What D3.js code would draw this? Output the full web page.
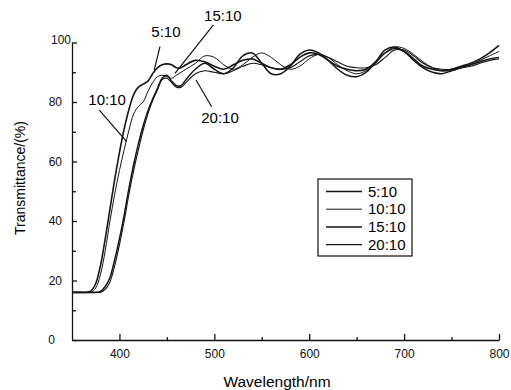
<!DOCTYPE html>
<html>
<head>
<meta charset="utf-8">
<script src="https://cdn.jsdelivr.net/npm/d3@7"></script>
<style>
  body { margin: 0; background: #fff; }
  svg { display: block; font-family: "Liberation Sans", Arial, sans-serif; }
  .axis path, .axis line { stroke: #111; stroke-width: 1.3; }
  .axis text { font-size: 12px; fill: #111; }
  .curve { fill: none; stroke: #151515; }
</style>
</head>
<body>
<script>
// transmittance spectra for four ratios

var wavelength = [350, 360, 365, 370, 375, 380, 385, 390, 395, 400, 405, 410, 415, 420, 425, 430,
                  435, 440, 445, 450, 455, 460, 465, 470, 480, 490, 500, 510, 520, 530, 540, 550,
                  560, 570, 580, 590, 600, 610, 620, 630, 640, 650, 660, 670, 680, 690, 700, 710,
                  720, 730, 740, 750, 760, 770, 780, 790, 800];

var t_5_10  = [16, 16, 16, 16.5, 19, 25, 34, 44, 54, 63, 71, 77.5, 82.5, 85, 86, 87,
               89.5, 91.5, 92.5, 92.8, 92.5, 91.5, 91.5, 92.5, 94, 93.5, 92, 91, 92.5, 94, 94.5, 93,
               91.5, 91, 92.5, 95, 96.5, 96, 94, 92, 91, 90.5, 91, 93.5, 96.5, 98, 97, 94.5,
               92, 91, 90.5, 91, 92, 93, 94.5, 96.5, 99];

var t_10_10 = [16, 16, 16, 16, 17.5, 22, 30, 40, 49, 57, 64, 70.5, 76, 78.5, 80, 83.5,
               86.5, 88.5, 89, 88.5, 88, 89, 90, 91, 93, 95.5, 95, 92.5, 91, 92.5, 95, 96.5,
               95, 92.5, 91, 92, 94.5, 96, 95, 92.5, 90.5, 89.5, 90.5, 93, 96.5, 98.5, 98, 96,
               93.5, 91.5, 90.5, 90.5, 91.5, 92.5, 94, 95.5, 97];

var t_15_10 = [16, 16, 16, 16, 16, 16.3, 18, 21, 27, 34, 42, 51, 59, 66, 72, 77,
               81, 84.5, 88, 89, 87, 85.5, 85.5, 87.5, 91, 93, 91, 89.5, 91.5, 95.5, 96.5, 93,
               89.5, 89.5, 92, 96, 97.5, 96.5, 94, 91, 89, 88.5, 90, 93.5, 97.5, 98.5, 97, 94,
               91.5, 90, 89.5, 90.5, 91.5, 92.5, 93.5, 94.5, 95];

var t_20_10 = [16, 16, 16, 16, 16, 16, 17, 19.5, 25, 32, 40, 49, 57, 64, 70.5, 76,
               80.5, 84, 87.5, 88, 86.5, 85, 85, 86.5, 89.5, 90.5, 90, 89.5, 90.5, 92, 93, 92.5,
               91.5, 91, 91.5, 93.5, 95.5, 96, 95, 93.5, 92, 91.5, 91.5, 92.5, 95, 97.5, 97.5, 95.5,
               93, 91.5, 91, 91, 91.5, 92, 93, 94, 94.5];

var series_names = ["5:10", "10:10", "15:10", "20:10"];
var series_values = [t_5_10, t_10_10, t_15_10, t_20_10];
var series_widths = [1.6, 1.0, 1.5, 1.1];

var x_ticks = [400, 500, 600, 700, 800];
var x_minor = [450, 550, 650, 750];
var y_ticks = [0, 20, 40, 60, 80, 100];
var y_minor = [10, 30, 50, 70, 90];

// label text, its anchor point and where the leader line meets the curve (data units)
var callouts = [
  {name: "5:10",  tx: 449, ty: 103.6, lx1: 442.7, ly1: 98.6, lx2: 436.7, ly2: 90.8},
  {name: "15:10", tx: 509, ty: 108.9, lx1: 499,   ly1: 105.9, lx2: 458.5, ly2: 89.6},
  {name: "10:10", tx: 387, ty: 80.7,  lx1: 378.8, ly1: 77.3, lx2: 407.6, ly2: 66.7},
  {name: "20:10", tx: 506, ty: 74.6,  lx1: 480.7, ly1: 87.4, lx2: 497.2, ly2: 78.4}
];

var W = 511, H = 390;

var svg = d3.select("body").append("svg")
            .attr("width", W)
            .attr("height", H);

var x = d3.scaleLinear().domain([350, 800]).range([72, 499]);
var y = d3.scaleLinear().domain([0, 100]).range([340, 42.5]);

// axes (ticks point inward like the Origin plot)
svg.append("g")
   .attr("class", "axis")
   .attr("transform", "translate(0," + y(0) + ")")
   .call(d3.axisBottom(x).tickValues(x_ticks).tickSize(-6).tickSizeOuter(0).tickPadding(9))
   .call(g => g.selectAll("text").attr("dy", "0.71em"));

svg.append("g")
   .attr("class", "axis")
   .attr("transform", "translate(0," + y(0) + ")")
   .call(d3.axisBottom(x).tickValues(x_minor).tickSize(-3).tickFormat(""))
   .call(g => g.select(".domain").remove());

svg.append("g")
   .attr("class", "axis")
   .attr("transform", "translate(" + x(350) + ",0)")
   .call(d3.axisLeft(y).tickValues(y_ticks).tickSize(-5).tickSizeOuter(0).tickPadding(10))
   .call(g => g.selectAll(".tick text")
               .attr("dx", d => d == 100 ? 9 : (d == 0 ? -7 : 0))
               .attr("dy", d => d == 100 ? "0.1em" : "0.32em"));

svg.append("g")
   .attr("class", "axis")
   .attr("transform", "translate(" + x(350) + ",0)")
   .call(d3.axisLeft(y).tickValues(y_minor).tickSize(-4).tickFormat(""))
   .call(g => g.select(".domain").remove());

// axis titles
svg.append("text")
   .attr("x", 277)
   .attr("y", 387)
   .attr("text-anchor", "middle")
   .style("font-size", "15.5px")
   .text("Wavelength/nm");

svg.append("text")
   .attr("transform", "translate(25,178) rotate(-90)")
   .attr("text-anchor", "middle")
   .style("font-size", "14px")
   .text("Transmittance/(%)");

// curves
var line = d3.line()
             .x(d => x(d[0]))
             .y(d => y(d[1]))
             .curve(d3.curveCatmullRom.alpha(0.5));

series_values.forEach(function(vals, i) {
    var data = wavelength.map((w, j) => [w, vals[j]]);
    svg.append("path")
       .attr("class", "curve")
       .datum(data)
       .attr("stroke-width", series_widths[i])
       .attr("d", line);
});

// call-out labels with leader lines
callouts.forEach(function(c) {
    svg.append("text")
       .attr("x", x(c.tx))
       .attr("y", y(c.ty))
       .attr("text-anchor", "middle")
       .attr("dy", "0.35em")
       .style("font-size", "15px")
       .text(c.name);
    svg.append("line")
       .attr("x1", x(c.lx1)).attr("y1", y(c.ly1))
       .attr("x2", x(c.lx2)).attr("y2", y(c.ly2))
       .attr("stroke", "#111")
       .attr("stroke-width", 1.2);
});

// legend
var legend = svg.append("g").attr("transform", "translate(318,179)");

legend.append("rect")
      .attr("width", 94)
      .attr("height", 77)
      .attr("fill", "none")
      .attr("stroke", "#111")
      .attr("stroke-width", 1.2);

series_names.forEach(function(name, i) {
    var ry = 12.5 + i * 17.7;
    legend.append("line")
          .attr("x1", 8).attr("x2", 44)
          .attr("y1", ry).attr("y2", ry)
          .attr("stroke", "#151515")
          .attr("stroke-width", series_widths[i]);
    legend.append("text")
          .attr("x", 50)
          .attr("y", ry)
          .attr("dy", "0.35em")
          .style("font-size", "15px")
          .text(name);
});
</script>
</body>
</html>
